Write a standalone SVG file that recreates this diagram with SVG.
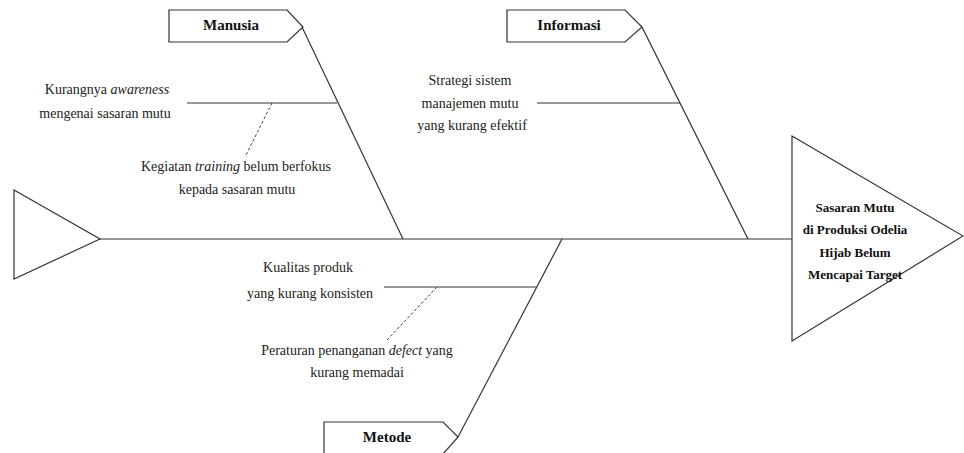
<svg xmlns="http://www.w3.org/2000/svg" width="964" height="453" viewBox="0 0 964 453">
<style>
.ln{stroke:#333;stroke-width:1.2;fill:none}
.dash{stroke:#444;stroke-width:1;fill:none;stroke-dasharray:3 2}
.shape{stroke:#333;stroke-width:1.2;fill:#fff}
.t{font-family:"Liberation Serif","Times New Roman",serif;font-size:14px;fill:#222;text-anchor:middle;dominant-baseline:central}
.b{font-family:"Liberation Serif","Times New Roman",serif;font-weight:bold;fill:#111;text-anchor:middle;dominant-baseline:central}
</style>
<rect width="964" height="453" fill="#fff"/>
<g id="connectors">
<line class="ln" x1="100" y1="239" x2="792" y2="239"/>
<line class="ln" x1="302" y1="27" x2="403" y2="239"/>
<line class="ln" x1="642" y1="27" x2="748" y2="239"/>
<line class="ln" x1="458" y1="437" x2="562" y2="239"/>
<line class="ln" x1="187" y1="103" x2="337" y2="103"/>
<line class="dash" x1="272" y1="103" x2="245" y2="157"/>
<line class="ln" x1="537" y1="103" x2="680" y2="103"/>
<line class="ln" x1="384" y1="287" x2="537" y2="287"/>
<line class="dash" x1="437" y1="287" x2="387" y2="340"/>
</g>
<g id="tail">
<polygon class="shape" points="14,190 100,239 14,279"/>
</g>
<g id="head">
<polygon class="shape" points="792,136 963,236 792,341"/>
<text class="b" font-size="13" x="855" y="207">Sasaran Mutu</text>
<text class="b" font-size="13" x="855" y="229">di Produksi Odelia</text>
<text class="b" font-size="13" x="855" y="252">Hijab Belum</text>
<text class="b" font-size="13" x="855" y="274">Mencapai Target</text>
</g>
<g id="manusia">
<polygon class="shape" points="169,10 287,10 303,27 287,42 169,42"/>
<text class="b" font-size="15" x="231" y="25">Manusia</text>
</g>
<g id="informasi">
<polygon class="shape" points="507,10 625,10 642,27 625,42 507,42"/>
<text class="b" font-size="15" x="569" y="25">Informasi</text>
</g>
<g id="metode">
<polygon class="shape" points="324,422 443,422 458,437 443,454 324,454"/>
<text class="b" font-size="15" x="387" y="437">Metode</text>
</g>
<g id="cause-awareness">
<text class="t" x="107" y="89">Kurangnya <tspan font-style="italic">awareness</tspan></text>
<text class="t" x="105" y="113">mengenai sasaran mutu</text>
</g>
<g id="cause-training">
<text class="t" x="236" y="166">Kegiatan <tspan font-style="italic">training</tspan> belum berfokus</text>
<text class="t" x="237" y="189">kepada sasaran mutu</text>
</g>
<g id="cause-strategi">
<text class="t" x="470" y="80">Strategi sistem</text>
<text class="t" x="470" y="103">manajemen mutu</text>
<text class="t" x="472" y="125">yang kurang efektif</text>
</g>
<g id="cause-kualitas">
<text class="t" x="308" y="267">Kualitas produk</text>
<text class="t" x="310" y="293">yang kurang konsisten</text>
</g>
<g id="cause-peraturan">
<text class="t" x="357" y="350">Peraturan penanganan <tspan font-style="italic">defect</tspan> yang</text>
<text class="t" x="357" y="372">kurang memadai</text>
</g>
</svg>
